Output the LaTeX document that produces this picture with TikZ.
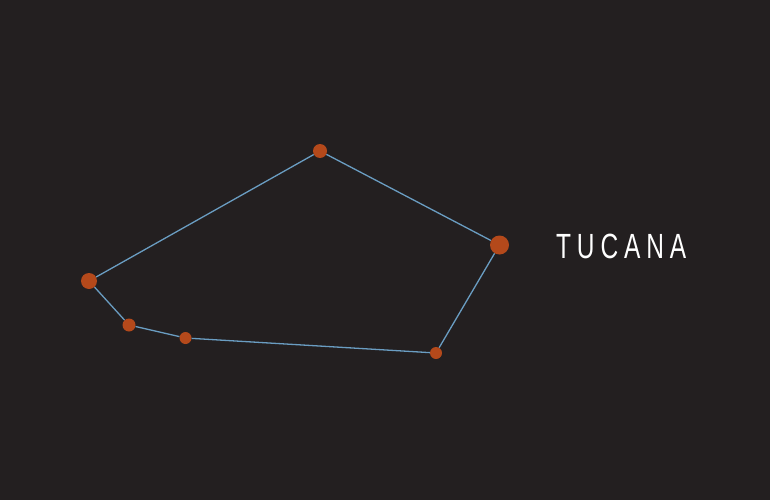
\documentclass[tikz,border=0pt]{standalone}
\usepackage{fontspec}
\setmainfont{Liberation Sans}
\definecolor{bg}{HTML}{231F20}
\definecolor{lineblue}{HTML}{6A9DC2}
\definecolor{starred}{HTML}{B4491B}
\begin{document}
\begin{tikzpicture}[x=1pt,y=-1pt,
  conn/.style={draw=lineblue,line width=1.3pt},
  star/.style={circle,fill=starred,inner sep=0pt,minimum size=#1}]
\fill[bg] (0,0) rectangle (770,500);
\useasboundingbox (0,0) rectangle (770,500);
\node[star=14pt] (a) at (320,151) {};
\node[star=19pt] (b) at (499.5,245) {};
\node[star=12pt] (c) at (436,353) {};
\node[star=12pt] (d) at (185.5,338) {};
\node[star=13pt] (e) at (129,325) {};
\node[star=16pt] (f) at (89,281) {};
\begin{scope}[on background layer/.style={}]
\end{scope}
\draw[conn] (a) -- (b) -- (c) -- (d) -- (e) -- (f) -- (a);
\node[anchor=base west,inner sep=0pt,text=white,xscale=0.7,font={\fontsize{35pt}{35pt}\selectfont\addfontfeature{LetterSpace=24}}] (t) at (556,258.5) {TUCANA};
\end{tikzpicture}
\end{document}
